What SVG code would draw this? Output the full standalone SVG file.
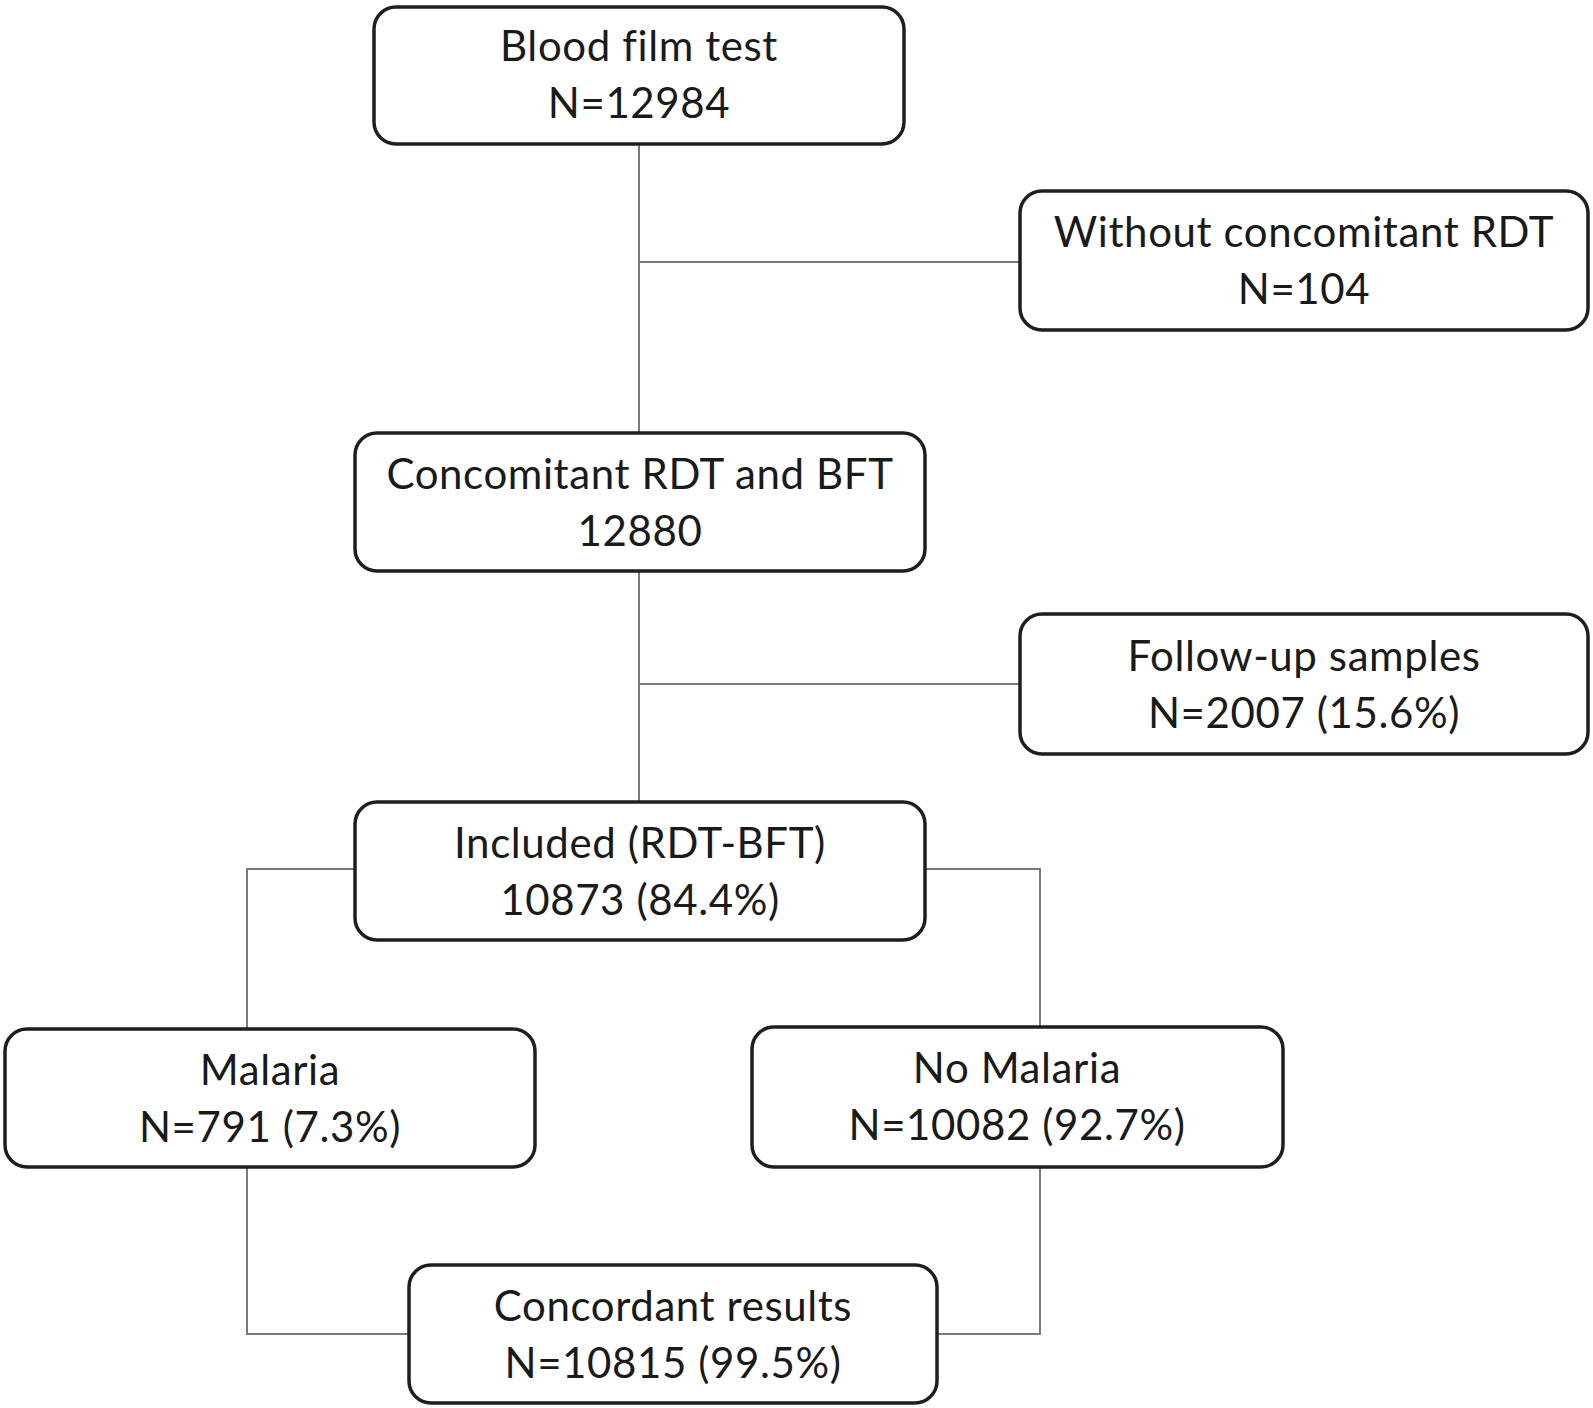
<svg xmlns="http://www.w3.org/2000/svg" width="1593" height="1408" viewBox="0 0 1593 1408">
<style>
.box{fill:#fff;stroke:#1e1e1e;stroke-width:3.5}
.t{font-family:Lato,"Liberation Sans",sans-serif;font-size:42px;letter-spacing:0.6px;fill:#1a1a1a;text-anchor:middle}
.c{stroke:#7a7a7a;stroke-width:2;fill:none}
</style>
<rect width="1593" height="1408" fill="#fff"/>
<g id="connectors">
<path class="c" d="M639 144V433M639 262H1020M639 571V802M639 684H1020"/>
<path class="c" d="M355 869H247V1029M925 869H1040V1027"/>
<path class="c" d="M247 1167V1334H409M1040 1167V1334H937"/>
</g>
<g id="n1"><rect class="box" x="374" y="7" width="530" height="137" rx="22"/><text class="t" x="639" y="61">Blood film test</text><text class="t" x="639" y="118">N=12984</text></g>
<g id="n2"><rect class="box" x="1020" y="191" width="568" height="139" rx="22"/><text class="t" x="1304" y="247">Without concomitant RDT</text><text class="t" x="1304" y="304">N=104</text></g>
<g id="n3"><rect class="box" x="355" y="433" width="570" height="138" rx="22"/><text class="t" x="640" y="489">Concomitant RDT and BFT</text><text class="t" x="640" y="546">12880</text></g>
<g id="n4"><rect class="box" x="1020" y="614" width="568" height="140" rx="22"/><text class="t" x="1304" y="671">Follow-up samples</text><text class="t" x="1304" y="728">N=2007 (15.6%)</text></g>
<g id="n5"><rect class="box" x="355" y="802" width="570" height="138" rx="22"/><text class="t" x="640" y="858">Included (RDT-BFT)</text><text class="t" x="640" y="915">10873 (84.4%)</text></g>
<g id="n6"><rect class="box" x="5" y="1029" width="530" height="138" rx="22"/><text class="t" x="270" y="1085">Malaria</text><text class="t" x="270" y="1142">N=791 (7.3%)</text></g>
<g id="n7"><rect class="box" x="752" y="1027" width="531" height="140" rx="22"/><text class="t" x="1017" y="1083">No Malaria</text><text class="t" x="1017" y="1140">N=10082 (92.7%)</text></g>
<g id="n8"><rect class="box" x="409" y="1265" width="528" height="138" rx="22"/><text class="t" x="673" y="1321">Concordant results</text><text class="t" x="673" y="1378">N=10815 (99.5%)</text></g>
</svg>
